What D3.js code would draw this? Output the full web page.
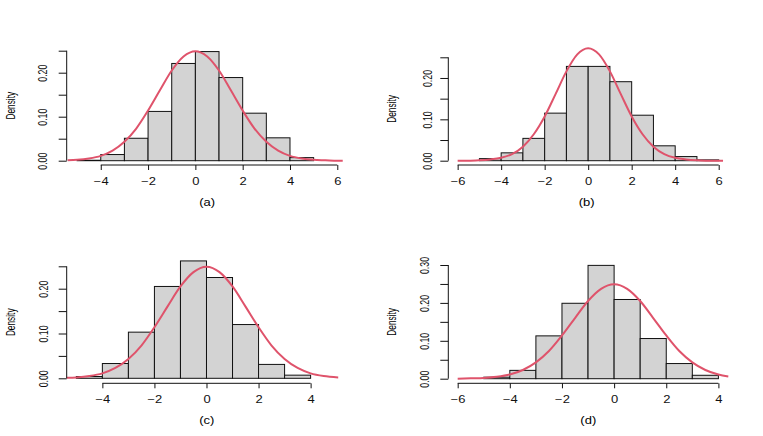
<!DOCTYPE html>
<html>
<head>
<meta charset="utf-8">
<script src="https://cdn.jsdelivr.net/npm/d3@7/dist/d3.min.js"></script>
<style>
body { margin: 0; background: #fff; }
svg text { font-family: "Liberation Sans", Arial, sans-serif; fill: #000; }
</style>
</head>
<body>
<div id="chart"></div>
<script>
// histogram densities, one bin per unit
var breaksA = [-5, -4, -3, -2, -1, 0, 1, 2, 3, 4, 5];
var densityA = [0.001, 0.014, 0.051, 0.112, 0.221, 0.248, 0.189, 0.108, 0.052, 0.007];
var breaksB = [-5, -4, -3, -2, -1, 0, 1, 2, 3, 4, 5, 6];
var densityB = [0.005, 0.019, 0.054, 0.115, 0.228, 0.228, 0.191, 0.110, 0.036, 0.010, 0.002];
var breaksC = [-5, -4, -3, -2, -1, 0, 1, 2, 3, 4];
var densityC = [0.004, 0.033, 0.103, 0.205, 0.262, 0.225, 0.120, 0.031, 0.007];
var breaksD = [-5, -4, -3, -2, -1, 0, 1, 2, 3, 4];
var densityD = [0.004, 0.022, 0.113, 0.199, 0.299, 0.209, 0.106, 0.040, 0.009];

// red density curves
var curveXA = [-5.4, -5, -4.5, -4, -3.5, -3, -2.5, -2, -1.5, -1, -0.5, 0, 0.5, 1, 1.5, 2, 2.5, 3, 3.5, 4, 4.5, 5, 5.5, 6, 6.23];
var curveYA = [0.001, 0.002, 0.005, 0.011, 0.023, 0.043, 0.073, 0.114, 0.160, 0.205, 0.237, 0.249, 0.237, 0.205, 0.160, 0.114, 0.073, 0.043, 0.023, 0.011, 0.005, 0.002, 0.001, 0.000, 0.000];
var curveXB = [-6, -5.5, -5, -4.5, -4, -3.5, -3, -2.5, -2, -1.5, -1, -0.5, 0, 0.5, 1, 1.5, 2, 2.5, 3, 3.5, 4, 4.5, 5, 5.5, 6, 6.2];
var curveYB = [0.000, 0.000, 0.001, 0.003, 0.007, 0.016, 0.034, 0.064, 0.107, 0.161, 0.216, 0.257, 0.272, 0.257, 0.216, 0.161, 0.107, 0.064, 0.034, 0.016, 0.007, 0.003, 0.001, 0.000, 0.000, 0.000];
var curveXC = [-5.37, -5, -4.5, -4, -3.5, -3, -2.5, -2, -1.5, -1, -0.5, 0, 0.5, 1, 1.5, 2, 2.5, 3, 3.5, 4, 4.5, 5.06];
var curveYC = [0.001, 0.002, 0.005, 0.011, 0.023, 0.043, 0.073, 0.114, 0.160, 0.205, 0.237, 0.249, 0.237, 0.205, 0.160, 0.114, 0.073, 0.043, 0.023, 0.011, 0.005, 0.002];
var curveXD = [-6, -5.5, -5, -4.5, -4, -3.5, -3, -2.5, -2, -1.5, -1, -0.5, 0, 0.5, 1, 1.5, 2, 2.5, 3, 3.5, 4, 4.38];
var curveYD = [0.000, 0.001, 0.002, 0.005, 0.011, 0.023, 0.043, 0.073, 0.114, 0.160, 0.205, 0.237, 0.249, 0.237, 0.205, 0.160, 0.114, 0.073, 0.043, 0.023, 0.011, 0.006];

// axis ticks and labels
var xTicksA = [-4, -2, 0, 2, 4, 6];
var xTicksB = [-6, -4, -2, 0, 2, 4, 6];
var xTicksC = [-4, -2, 0, 2, 4];
var xTicksD = [-6, -4, -2, 0, 2, 4];
var yTicks25 = [0, 0.05, 0.10, 0.15, 0.20, 0.25];
var yTicks30 = [0, 0.05, 0.10, 0.15, 0.20, 0.25, 0.30];
var yLabels25 = [0, 0.10, 0.20];
var yLabels30 = [0, 0.10, 0.20, 0.30];
var titles = ["(a)", "(b)", "(c)", "(d)"];
var yTitle = "Density";

var svg = d3.select("#chart")
    .append("svg")
    .attr("width", 763)
    .attr("height", 436);

svg.append("rect").attr("width", 763).attr("height", 436).style("fill", "#fff");

function draw_panel(p) {
    var x = d3.scaleLinear().domain(p.xDomain).range([p.left, p.right]);
    var y = d3.scaleLinear().domain([0, p.yMax]).range([p.y0, p.yTop]);
    var g = svg.append("g");

    g.selectAll("rect.bar")
        .data(p.density)
        .enter()
        .append("rect")
        .attr("class", "bar")
        .attr("x", function(d, i) { return x(p.breaks[i]); })
        .attr("y", function(d) { return y(d); })
        .attr("width", function(d, i) { return x(p.breaks[i + 1]) - x(p.breaks[i]); })
        .attr("height", function(d) { return y(0) - y(d); })
        .style("fill", "#d3d3d3")
        .style("stroke", "#111")
        .style("stroke-width", 1);

    var line = d3.line()
        .x(function(d) { return x(d[0]); })
        .y(function(d) { return y(d[1]); })
        .curve(d3.curveMonotoneX);

    g.append("path")
        .datum(d3.zip(p.curveX, p.curveY))
        .attr("d", line)
        .style("fill", "none")
        .style("stroke", "#df536b")
        .style("stroke-width", 2);

    // x axis, line only between first and last tick like R
    var xa = g.append("g")
        .attr("transform", "translate(0," + p.axisY + ")")
        .call(d3.axisBottom(x).tickValues(p.xTicks).tickSize(5).tickSizeOuter(0));
    xa.select(".domain").remove();
    xa.append("line")
        .attr("x1", x(p.xTicks[0]))
        .attr("x2", x(p.xTicks[p.xTicks.length - 1]))
        .attr("stroke", "#111");
    xa.selectAll(".tick line").attr("stroke", "#111");
    xa.selectAll(".tick text")
        .attr("y", 0)
        .attr("dy", "0.35em")
        .attr("transform", "translate(0," + (p.labelY - p.axisY) + ") scale(1.3,1)")
        .style("font-family", "Liberation Sans, Arial, sans-serif")
        .style("font-size", "10px")
        .style("fill", "#111");

    // y axis
    var ya = g.append("g")
        .attr("transform", "translate(" + p.left + ",0)")
        .call(d3.axisLeft(y).tickValues(p.yTicks).tickSize(8).tickSizeOuter(0)
            .tickFormat(function(d) {
                var show = p.yLabels.some(function(v) { return Math.abs(v - d) < 1e-9; });
                return show ? d3.format(".2f")(d) : "";
            }));
    ya.select(".domain").remove();
    ya.append("line")
        .attr("y1", y(p.yTicks[0]))
        .attr("y2", y(p.yTicks[p.yTicks.length - 1]))
        .attr("stroke", "#111");
    ya.selectAll(".tick line").attr("stroke", "#111");
    ya.selectAll(".tick text")
        .attr("x", 0)
        .attr("dy", "0.35em")
        .attr("text-anchor", "middle")
        .attr("transform", "translate(" + (p.yLabelX - p.left) + ",0) rotate(-90) scale(1,1.4)")
        .style("font-family", "Liberation Sans, Arial, sans-serif")
        .style("font-size", "8.8px")
        .style("fill", "#111");

    var midY = (y.range()[0] + y.range()[1]) / 2;
    g.append("text")
        .attr("transform", "translate(" + p.densityX + "," + (p.y0 + p.yTop) / 2 + ") rotate(-90) scale(1,1.45)")
        .attr("text-anchor", "middle")
        .attr("dy", "0.35em")
        .style("font-size", "8.3px")
        .text(yTitle);

    g.append("text")
        .attr("transform", "translate(" + (p.left + p.right) / 2 + "," + p.titleY + ") scale(1.3,1)")
        .attr("text-anchor", "middle")
        .attr("dy", "0.35em")
        .style("font-size", "10px")
        .text(p.title);
}

draw_panel({
    breaks: breaksA, density: densityA, curveX: curveXA, curveY: curveYA,
    xTicks: xTicksA, yTicks: yTicks25, yLabels: yLabels25, yMax: 0.25, title: titles[0],
    xDomain: [-5.44, 6.44], left: 66.7, right: 347.7, y0: 160.7, yTop: 50.7,
    axisY: 165, labelY: 181.7, titleY: 202, yLabelX: 43, densityX: 10.7
});
draw_panel({
    breaks: breaksB, density: densityB, curveX: curveXB, curveY: curveYB,
    xTicks: xTicksB, yTicks: yTicks25, yLabels: yLabels25, yMax: 0.25, title: titles[1],
    xDomain: [-6.43, 6.29], left: 448.3, right: 725, y0: 160.7, yTop: 57.3,
    axisY: 165, labelY: 181.7, titleY: 202, yLabelX: 428, densityX: 391.7
});
draw_panel({
    breaks: breaksC, density: densityC, curveX: curveXC, curveY: curveYC,
    xTicks: xTicksC, yTicks: yTicks25, yLabels: yLabels25, yMax: 0.25, title: titles[2],
    xDomain: [-5.37, 5.39], left: 66.7, right: 346.8, y0: 378.3, yTop: 266.3,
    axisY: 383.3, labelY: 399, titleY: 420, yLabelX: 44, densityX: 10.7
});
draw_panel({
    breaks: breaksD, density: densityD, curveX: curveXD, curveY: curveYD,
    xTicks: xTicksD, yTicks: yTicks30, yLabels: yLabels30, yMax: 0.30, title: titles[3],
    xDomain: [-6.36, 4.38], left: 448.3, right: 728.3, y0: 378.7, yTop: 265,
    axisY: 383.3, labelY: 399, titleY: 420, yLabelX: 424.7, densityX: 391.7
});
</script>
</body>
</html>
